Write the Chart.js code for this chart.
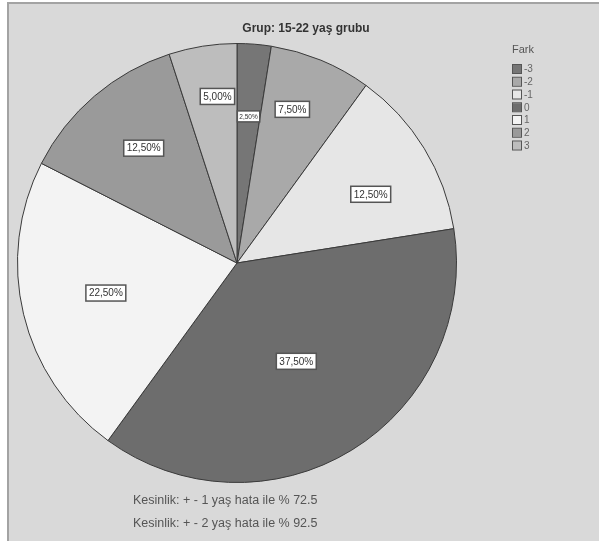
<!DOCTYPE html>
<html>
<head>
<meta charset="utf-8">
<script src="https://cdn.jsdelivr.net/npm/chart.js@4.4.1/dist/chart.umd.min.js"></script>
<style>
  html, body { margin: 0; padding: 0; background: #fff; }
  #frame {
    position: absolute; left: 7px; top: 2px; width: 600px; height: 545px;
    background: #d9d9d9; border-left: 2px solid #a3a3a3; border-top: 2px solid #a3a3a3;
  }
  #wrap { position: absolute; left: 0; top: 0; width: 599px; height: 541px; }
</style>
</head>
<body>
<div id="frame"></div>
<div id="wrap"><canvas id="pieChart"></canvas></div>
<script>
// Fark categories and counts (40 people, 15-22 age group)
var categories = ["-3", "-2", "-1", "0", "1", "2", "3"];
var counts = [1, 3, 5, 15, 9, 5, 2];
var sliceColors = ["#767676", "#a9a9a9", "#e6e6e6", "#6d6d6d", "#f3f3f3", "#9a9a9a", "#bdbdbd"];
var titleText = "Grup: 15-22 yaş grubu";
var legendTitle = "Fark";
var footnotes = ["Kesinlik: + - 1 yaş hata ile % 72.5", "Kesinlik: + - 2 yaş hata ile % 92.5"];

// label placement, as fraction of radius and small angle nudge (deg), like SPSS does it
var labelDist = [0.670, 0.744, 0.685, 0.523, 0.613, 0.674, 0.764];
var labelNudge = [0, -2.7, 4.3, 0.4, 0.6, 1.4, 2.3];

var FONT = '"Liberation Sans", Arial, sans-serif';

var total = counts.reduce(function(a, b) { return a + b; }, 0);
var pctText = function(v) {
  return (v / total * 100).toFixed(2).replace('.', ',') + '%';
};

// white boxed percent labels inside the slices
var sliceLabels = {
  id: 'sliceLabels',
  afterDatasetsDraw: function(chart) {
    var ctx = chart.ctx;
    var meta = chart.getDatasetMeta(0);
    meta.data.forEach(function(arc, i) {
      var p = arc.getProps(['x', 'y', 'startAngle', 'endAngle', 'outerRadius']);
      var mid = (p.startAngle + p.endAngle) / 2 + labelNudge[i] * Math.PI / 180;
      var d = p.outerRadius * labelDist[i];
      var cx = p.x + Math.cos(mid) * d;
      var cy = p.y + Math.sin(mid) * d;
      var small = counts[i] / total < 0.04;
      var fs = small ? 6.5 : 10;
      var txt = pctText(counts[i]);
      ctx.save();
      ctx.font = fs + 'px ' + FONT;
      var w = ctx.measureText(txt).width + (small ? 4 : 6);
      var h = small ? 11 : 16;
      ctx.fillStyle = '#fff';
      ctx.fillRect(cx - w / 2, cy - h / 2, w, h);
      ctx.strokeStyle = '#555';
      ctx.lineWidth = 1.5;
      ctx.strokeRect(cx - w / 2, cy - h / 2, w, h);
      ctx.fillStyle = '#333';
      ctx.textAlign = 'center';
      ctx.textBaseline = 'middle';
      ctx.fillText(txt, cx, cy + 0.5);
      ctx.restore();
    });
  }
};

// title, legend and footnotes in SPSS style
var decorations = {
  id: 'decorations',
  afterDraw: function(chart) {
    var ctx = chart.ctx;
    ctx.save();
    ctx.fillStyle = '#333';
    ctx.textAlign = 'center';
    ctx.textBaseline = 'middle';
    ctx.font = 'bold 12px ' + FONT;
    ctx.fillText(titleText, 306, 29);

    ctx.textAlign = 'left';
    ctx.font = '11px ' + FONT;
    ctx.fillStyle = '#555';
    ctx.fillText(legendTitle, 512, 50);
    ctx.font = '10px ' + FONT;
    categories.forEach(function(c, i) {
      var y = 69 + i * 12.75;
      ctx.fillStyle = sliceColors[i];
      ctx.fillRect(513, y - 4, 8, 8);
      ctx.strokeStyle = '#555';
      ctx.lineWidth = 1;
      ctx.strokeRect(512.5, y - 4.5, 9, 9);
      ctx.fillStyle = '#666';
      ctx.fillText(c, 524, y + 0.5);
    });

    ctx.font = '12.5px ' + FONT;
    ctx.fillStyle = '#555';
    footnotes.forEach(function(t, i) {
      ctx.fillText(t, 133, 501 + i * 22.5);
    });
    ctx.restore();
  }
};

var pieChart = new Chart(document.getElementById('pieChart').getContext('2d'), {
  type: 'pie',
  data: {
    labels: categories,
    datasets: [{
      data: counts,
      backgroundColor: sliceColors,
      borderColor: '#3a3a3a',
      borderWidth: 1
    }]
  },
  options: {
    responsive: true,
    maintainAspectRatio: false,
    animation: false,
    layout: { padding: { left: 17, right: 142, top: 43, bottom: 58 } },
    plugins: {
      legend: { display: false },
      tooltip: { enabled: false }
    }
  },
  plugins: [sliceLabels, decorations]
});
</script>
</body>
</html>
